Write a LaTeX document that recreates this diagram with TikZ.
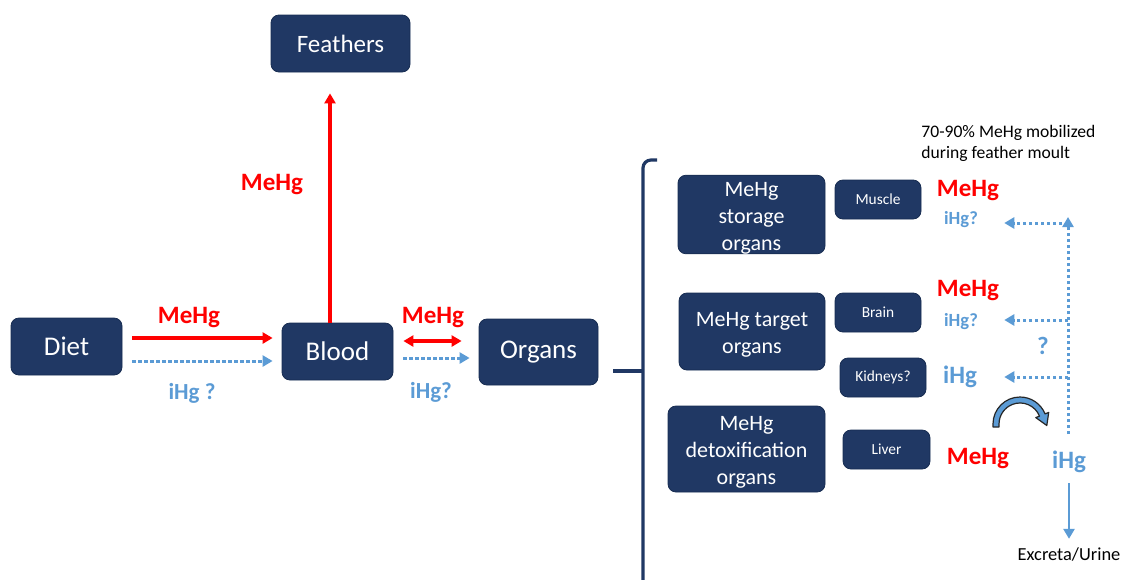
\documentclass[tikz,border=0pt]{standalone}
\usepackage{fontspec}
\setmainfont{Carlito}
\usetikzlibrary{arrows.meta}
\definecolor{boxnavy}{HTML}{203864}
\definecolor{boxedge}{HTML}{172C51}
\definecolor{mehgred}{HTML}{FF0000}
\definecolor{ihgblue}{HTML}{5B9BD5}
\newcommand{\topstrut}{\rule{0pt}{10.6pt}}

\begin{document}
\begin{tikzpicture}[
  x=0.5pt,
  y=-0.5pt,
  line join=round,
  organbox/.style={draw=boxedge,line width=0.4pt,fill=boxnavy,rounded corners=4pt,
    text=white,align=center,inner sep=0pt},
  bigbox/.style={organbox,font=\fontsize{13.5}{16}\selectfont},
  groupbox/.style={organbox,font=\fontsize{11}{13.4}\selectfont},
  tissuebox/.style={organbox,font=\fontsize{7.7}{9}\selectfont,
    minimum width=43pt,minimum height=19.5pt},
  mehglabel/.style={text=mehgred,font=\bfseries\fontsize{12.5}{15}\selectfont,inner sep=0pt},
  ihglabel/.style={text=ihgblue,font=\bfseries\fontsize{11.5}{14}\selectfont,inner sep=0pt},
  ihgsmall/.style={ihglabel,font=\bfseries\fontsize{9.3}{11}\selectfont},
  redflow/.style={draw=mehgred,line width=1.75pt,-{Triangle[length=5pt,width=5.5pt]}},
  redboth/.style={redflow,{Triangle[length=5pt,width=5.5pt]}-{Triangle[length=5pt,width=5.5pt]}},
  blueflow/.style={draw=ihgblue,line width=1.5pt,dash pattern=on 1.6pt off 1.4pt,
    -{Triangle[length=5pt,width=5.5pt]}},
  brace/.style={draw=boxnavy,line width=1.6pt,rounded corners=4pt}
]
  \useasboundingbox (0,0) rectangle (1124,579);

  % Main route: diet, blood, feathers and organs.
  \node[bigbox,minimum width=69.5pt,minimum height=28.5pt,font=\fontsize{12.5}{15}\selectfont]
    (feathers) at (340.5,43.5) {Feathers};
  \node[bigbox,minimum width=55.5pt,minimum height=28.5pt] (diet) at (66.5,346.5) {Diet};
  \node[bigbox,minimum width=55.5pt,minimum height=28.5pt] (blood) at (337.5,351.5) {Blood};
  \node[bigbox,minimum width=59.5pt,minimum height=33pt] (organs) at (538.5,352) {Organs};

  \draw[redflow] ([xshift=-3.75pt]blood.north) -- ([xshift=-5.25pt,yshift=-10.5pt]feathers.south);
  \node[mehglabel] (mehgfeathers) at (272,185) {MeHg};

  \draw[redflow] ([xshift=5pt,yshift=4.25pt]diet.east) -- ([xshift=-4.5pt,yshift=6.75pt]blood.west);
  \draw[blueflow] ([xshift=5pt,yshift=-7.25pt]diet.east) -- ([xshift=-4.5pt,yshift=-4.75pt]blood.west);
  \node[mehglabel] (mehgdiet) at (189,318) {MeHg};
  \node[ihglabel] (ihgdiet) at (192,393) {iHg ?};

  \draw[redboth] ([xshift=5pt,yshift=5.25pt]blood.east) -- ([xshift=-8.5pt,yshift=5.5pt]organs.west);
  \draw[blueflow] ([xshift=5pt,yshift=-3.25pt]blood.east) -- ([xshift=-4.5pt,yshift=-3pt]organs.west);
  \node[mehglabel] (mehgblood) at (433,318) {MeHg};
  \node[ihglabel] (ihgblood) at (431,392) {iHg?};

  % Brace opening onto the organ groups.
  \draw[brace] (657,160) -- (643,160) -- (643,582);
  \draw[brace] (613,371) -- (643,371);

  % Organ groups and tissues.
  \node[groupbox,minimum width=73.5pt,minimum height=38.5pt] (storage) at (751.5,214.5)
    {\topstrut MeHg\\storage\\organs};
  \node[groupbox,minimum width=73pt,minimum height=38.5pt] (target) at (752,331.5)
    {\topstrut MeHg target\\organs};
  \node[groupbox,minimum width=78.5pt,minimum height=43pt] (detox) at (746.5,449)
    {\topstrut MeHg\\detoxification\\organs};

  \node[tissuebox] (muscle) at (878,199.5) {Muscle};
  \node[tissuebox] (brain) at (878,312.5) {Brain};
  \node[tissuebox] (kidneys) at (883,377.5) {Kidneys?};
  \node[tissuebox,minimum width=43.5pt] (liver) at (886.5,449.5) {Liver};

  \node[mehglabel] (mehgmuscle) at (968,191) {MeHg};
  \node[ihgsmall] (ihgmuscle) at (961,220) {iHg?};
  \node[mehglabel] (mehgbrain) at (968,291) {MeHg};
  \node[ihgsmall] (ihgbrain) at (961,322) {iHg?};
  \node[ihglabel,font=\bfseries\fontsize{12.5}{15}\selectfont] (ihgkidneys) at (960,377) {iHg};
  \node[ihglabel,font=\bfseries\fontsize{12.5}{15}\selectfont] (unknown) at (1043,346) {?};
  \node[mehglabel] (mehgliver) at (978,459) {MeHg};
  \node[ihglabel,font=\bfseries\fontsize{12.5}{15}\selectfont] (ihgliver) at (1069,462) {iHg};

  \node[align=left,anchor=west,inner sep=0pt,font=\fontsize{8.8}{10.5}\selectfont]
    (moult) at (921,143) {70-90\% MeHg mobilized\\during feather moult};
  \node[inner sep=0pt,font=\fontsize{9.2}{11}\selectfont] (excreta) at (1069,554) {Excreta/Urine};

  % Redistribution of iHg after demethylation.
  \coordinate (riserbottom) at (1068,434);
  \coordinate (risertop) at (1068,217);
  \coordinate (tomuscle) at (1068,223);
  \coordinate (tobrain) at (1068,320);
  \coordinate (tokidneys) at (1068,377);
  \draw[blueflow] (riserbottom) -- (risertop);
  \draw[blueflow] (tomuscle) -- ([xshift=13pt]ihgmuscle.east |- tomuscle);
  \draw[blueflow] (tobrain) -- ([xshift=13pt]ihgbrain.east |- tobrain);
  \draw[blueflow] (tokidneys) -- ([xshift=13.5pt]ihgkidneys.east |- tokidneys);

  \draw[draw=ihgblue,line width=1.3pt,-{Triangle[length=5pt,width=5.5pt]}]
    ([yshift=-5pt]ihgliver.south) -- ([yshift=4pt]excreta.north);

  % Curved block arrow: MeHg turned into iHg.
  \fill[ihgblue,draw=black!85,line width=0.6pt]
    (993,427) -- (993,424) arc[start angle=180,end angle=338,radius=27]
    -- (1048.7,412.4) -- (1046.8,425.5) -- (1035.8,417.6) -- (1039.5,416.1)
    arc[start angle=338,end angle=180,radius=21] -- (999,427) -- cycle;
\end{tikzpicture}
\end{document}
